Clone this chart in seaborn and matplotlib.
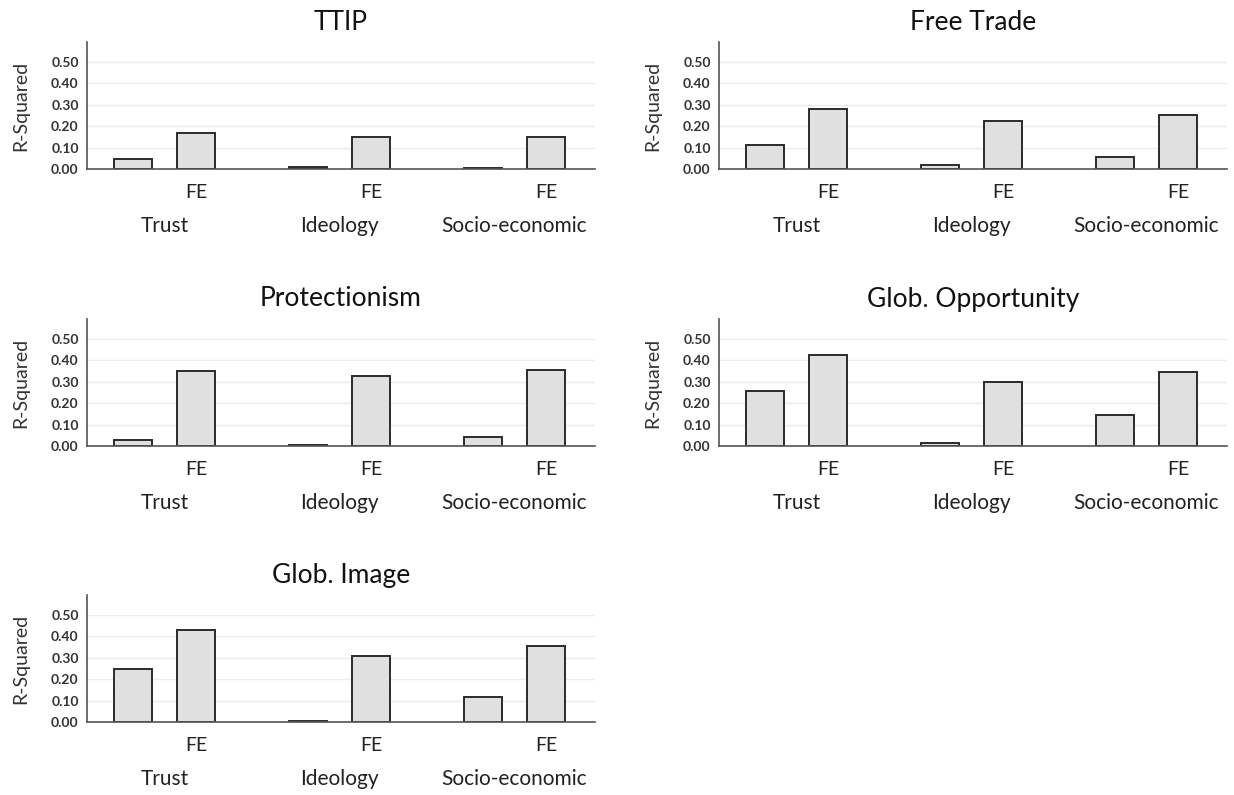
import matplotlib
matplotlib.use("Agg")
import matplotlib.pyplot as plt
import seaborn as sns
import pandas as pd
import numpy as np

# ---- data ----
panels = ["TTIP", "Free Trade", "Protectionism", "Glob. Opportunity", "Glob. Image"]
groups = ["Trust", "Ideology", "Socio-economic"]
models = ["", "FE"]
base_values = {
    "TTIP":              [0.045, 0.010, 0.003],
    "Free Trade":        [0.110, 0.018, 0.055],
    "Protectionism":     [0.028, 0.005, 0.040],
    "Glob. Opportunity": [0.255, 0.013, 0.143],
    "Glob. Image":       [0.248, 0.006, 0.115],
}
fe_values = {
    "TTIP":              [0.170, 0.150, 0.150],
    "Free Trade":        [0.280, 0.225, 0.250],
    "Protectionism":     [0.350, 0.328, 0.355],
    "Glob. Opportunity": [0.425, 0.297, 0.345],
    "Glob. Image":       [0.428, 0.310, 0.355],
}
yticks = [0.0, 0.1, 0.2, 0.3, 0.4, 0.5]

sns.set_theme(style="white")
plt.rcParams['font.family'] = ['Lato', 'DejaVu Sans']

W, H = 1234, 795
fig = plt.figure(figsize=(W / 100, H / 100), dpi=100)

lefts = [87, 719]
bottoms = [169, 446, 722]
axw, axh = 508, 127

for i, name in enumerate(panels):
    r, c = divmod(i, 2)
    ax = fig.add_axes([lefts[c] / W, 1 - bottoms[r] / H, axw / W, axh / H])
    rows = []
    for g, b, f in zip(groups, base_values[name], fe_values[name]):
        rows.append({"group": g, "model": models[0], "value": b})
        rows.append({"group": g, "model": models[1], "value": f})
    df = pd.DataFrame(rows)
    sns.barplot(data=df, x="group", y="value", hue="model", hue_order=models,
                order=groups, palette=["#e0e0e0", "#e0e0e0"], width=0.72, gap=0.41,
                edgecolor="#2b2b2b", linewidth=1.4, legend=False, ax=ax, errorbar=None)
    ax.set_ylim(0, 0.593)
    ax.set_xlim(-0.443, 2.46)
    ax.set_yticks(yticks)
    ax.set_yticklabels([f"{t:.2f}" for t in yticks], fontsize=10, fontweight="bold", color="#333333")
    ax.yaxis.grid(True, color="#ececec", linewidth=1)
    ax.set_axisbelow(True)
    for s in ["top", "right"]:
        ax.spines[s].set_visible(False)
    ax.spines["left"].set_color("#555555")
    ax.spines["bottom"].set_color("#555555")
    ax.spines["left"].set_linewidth(1.2)
    ax.spines["bottom"].set_linewidth(1.2)
    ax.tick_params(axis="y", length=4, width=1, color="#555555", pad=2)
    # x labels: group names (major) and FE (minor)
    centers = sorted([p.get_x() + p.get_width() / 2 for p in ax.patches if p.get_width() > 0])
    fe_pos = centers[1::2]
    ax.set_xticks(range(len(groups)))
    ax.set_xticklabels(groups, fontsize=15, color="#222222")
    ax.set_xticks(fe_pos, minor=True)
    ax.set_xticklabels(["FE"] * len(fe_pos), minor=True, fontsize=14, color="#222222")
    ax.tick_params(axis="x", which="major", length=0, pad=34)
    ax.tick_params(axis="x", which="minor", length=0, pad=11)
    ax.set_xlabel("")
    ax.set_ylabel("R-Squared", fontsize=14, color="#333333", labelpad=16)
    ax.set_title(name, fontsize=19, color="#111111", pad=9)

fig.savefig("out.png", dpi=100)
